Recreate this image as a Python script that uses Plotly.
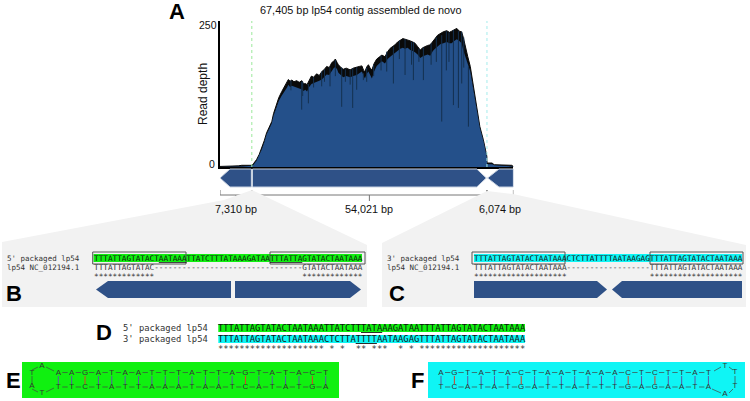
import plotly.graph_objects as go

W, H = 750, 401
SANS = "Liberation Sans"
MONO = "DejaVu Sans Mono"
BLUE = "#24508a"
GENE = "#2f5187"
GREY = "#f2f2f2"
GREEN = "#10f010"
CYAN = "#0ff5f5"

#%% read depth
depth_pos = [0, 2000, 4200, 5000, 7300, 7700, 8400, 9000, 9600, 10200, 10700, 11300, 11900, 12300, 12700, 13100, 13500,
             14200, 14600, 15000, 15400, 15700, 16100, 16500, 17000, 17600, 18200, 18800, 19200, 19600, 20000, 20400,
             21000, 21500, 22200, 22800, 23400, 24000, 24500, 25100, 25700, 26100, 26500, 26900, 27200, 27800, 28300,
             29000, 29900, 30600, 31400, 32000, 32600, 33000, 33300, 33700, 34100, 34500, 34900, 35400, 36000, 36600,
             37200, 37900, 38500, 39100, 39700, 40200, 40800, 41400, 42000, 42500, 43100, 43700, 44300, 44800, 45400,
             46000, 46600, 47100, 47700, 48300, 48900, 49400, 50000, 50600, 51300, 52100, 52700, 53200, 53800, 54400,
             55000, 55500, 55900, 56300, 56900, 57500, 58200, 59000, 59700, 60500, 61000, 61300, 61350, 62500, 63000,
             66500, 67000, 67405]
depth_top = [1, 1, 2, 3, 3, 6, 13, 22, 33, 47, 60, 70, 80, 94, 104, 114, 122,
             133, 138, 144, 150, 154, 151, 153, 150, 152, 149, 152, 146, 147, 145, 152,
             160, 158, 164, 161, 168, 172, 177, 175, 184, 186, 190, 184, 180, 175, 172,
             174, 171, 174, 175, 177, 178, 170, 168, 176, 180, 174, 171, 182, 190, 194,
             197, 194, 203, 209, 212, 215, 220, 223, 226, 225, 224, 222, 220, 218, 212,
             206, 210, 212, 214, 215, 222, 226, 232, 235, 238, 240, 237, 239, 241, 244,
             239, 238, 228, 212, 195, 177, 142, 101, 71, 48, 30, 19, 7, 7, 4,
             3, 3, 1]
depth_low = [0, 0, 1, 1, 2, 4, 11, 20, 31, 44, 57, 67, 77, 90, 100, 108, 116,
             126, 130, 136, 140, 145, 141, 143, 141, 140, 138, 137, 134, 136, 133, 140,
             146, 148, 150, 152, 154, 158, 163, 162, 170, 174, 176, 172, 166, 162, 158,
             160, 158, 160, 162, 165, 168, 160, 156, 164, 168, 162, 156, 168, 178, 182,
             186, 182, 190, 194, 198, 200, 205, 208, 210, 208, 210, 206, 204, 202, 198,
             192, 195, 196, 198, 196, 204, 208, 212, 216, 218, 220, 218, 218, 222, 225,
             222, 218, 205, 196, 182, 168, 136, 98, 68, 46, 28, 17, 5, 5, 3,
             2, 1, 0]
dip_pos = [18767, 20299, 23363, 25278, 27959, 30487, 31406, 32938, 38300, 39832, 42513, 44428, 46726, 50939, 53620,
           54769, 55535, 57067, 16300, 19000, 21500, 24000, 26500, 28800, 29900, 33700, 35300, 37000, 41200, 44000,
           45700, 48500, 49700, 52000, 52600, 56000]
dip_bottom = [101, 112, 142, 142, 106, 104, 136, 153, 168, 147, 162, 153, 153, 80, 109, 104, 147, 71, 135, 125, 140,
              150, 160, 150, 145, 150, 160, 170, 190, 180, 185, 180, 185, 170, 185, 175]
dip_top = [150, 146, 168, 175, 175, 174, 175, 165, 203, 212, 225, 220, 210, 232, 241, 239, 238, 177, 152, 150, 158,
           172, 188, 172, 171, 175, 180, 196, 222, 220, 208, 218, 228, 239, 237, 228]

contig_len = 67405
segments_bp = [7310, 54021, 6074]
segment_labels = ["7,310 bp", "54,021 bp", "6,074 bp"]

#%% alignments
seq_5 = "TTTATTAGTATACTAATAAATTATCTTTATAAAGATAATTTATTAGTATACTAATAAA"
seq_3 = "TTTATTAGTATACTAATAAACTCTTATTTTAATAAGAGTTTATTAGTATACTAATAAA"
ref_b = "TTTATTAGTATAC" + "-" * 32 + "GTATACTAATAAA"
ref_c = "TTTATTAGTATACTAATAAA" + "-" * 18 + "TTTATTAGTATACTAATAAA"
star_b = "*" * 13 + " " * 32 + "*" * 13
star_c = "*" * 20 + " " * 18 + "*" * 20
star_d = "*" * 20 + " * *  ** ***  * * " + "*" * 20

#%% hairpins
e_top = list("AAGATAATTTATTAGTATACT")
e_bot = list("TTCTATTAAATAATCATATGA")
f_top = list("AGTATACTAATAAACTCTTAT")
f_bot = list("TCATATGATTATTTGAGAATA")

fig = go.Figure()


def text(x, y, s, size=8, font=SANS, color="#111111", anchor="center", bold=False, angle=0):
    if bold:
        s = "<b>" + s + "</b>"
    fig.add_annotation(x=x, y=y, xref="x2", yref="y2", text=s.replace(" ", "\u00a0") if font == MONO else s,
                       showarrow=False, xanchor=anchor, yanchor="middle", textangle=angle,
                       font=dict(family=font, size=size, color=color), borderpad=0, borderwidth=0)


def poly(pts, fill, line=None, lw=1, xref="x2", layer="below"):
    path = "M" + " L".join(f"{a},{b}" for a, b in pts) + " Z"
    fig.add_shape(type="path", path=path, xref=xref, yref="y2", fillcolor=fill, layer=layer,
                  line=dict(color=line if line else fill, width=lw if line else 0))


def rect(x0, y0, x1, y1, fill="rgba(0,0,0,0)", line=None, lw=1, layer="below"):
    fig.add_shape(type="rect", x0=x0, y0=y0, x1=x1, y1=y1, xref="x2", yref="y2", fillcolor=fill, layer=layer,
                  line=dict(color=line if line else fill, width=lw if line else 0))


def under(s, a, b):
    return s[:a] + "<u>" + s[a:b] + "</u>" + s[b:]


# grey zoom panels
poly([(2, 242), (224, 200), (252, 190), (367, 245), (367, 307), (2, 307)], GREY)
poly([(382, 243), (487, 191), (513, 194), (746, 245), (746, 307), (382, 307)], GREY)

# Wykres glowny
fig.add_trace(go.Scatter(x=depth_pos, y=depth_top, mode="lines", fill="tozeroy", fillcolor="#0a0a0a",
                         line=dict(color="#0a0a0a", width=1), xaxis="x", yaxis="y"))
fig.add_trace(go.Scatter(x=depth_pos, y=depth_low, mode="lines", fill="tozeroy", fillcolor=BLUE,
                         line=dict(color=BLUE, width=0), xaxis="x", yaxis="y"))
dx, dy = [], []
for p, b, t in zip(dip_pos, dip_bottom, dip_top):
    dx += [p, p, None]
    dy += [b, t, None]
fig.add_trace(go.Scatter(x=dx, y=dy, mode="lines", line=dict(color="#14304f", width=1), xaxis="x", yaxis="y"))

left_end = segments_bp[0]
right_end = segments_bp[0] + segments_bp[1]
fig.add_trace(go.Scatter(x=[left_end, left_end], y=[0, 257], mode="lines",
                         line=dict(color="#9be89b", width=1, dash="dot"), xaxis="x", yaxis="y"))
fig.add_trace(go.Scatter(x=[right_end, right_end], y=[0, 257], mode="lines",
                         line=dict(color="#a5ecec", width=1, dash="dot"), xaxis="x", yaxis="y"))

# genes under the depth plot, x in bp
poly([(0, 178), (2300, 169), (left_end - 100, 169), (left_end - 100, 187), (2300, 187)], GENE, "#c9d3e2", 1, "x")
poly([(left_end + 150, 169), (59000, 169), (right_end - 150, 178), (59000, 187), (left_end + 150, 187)],
     GENE, "#c9d3e2", 1, "x")
poly([(right_end + 150, 178), (64100, 169), (contig_len, 169), (contig_len, 187), (64100, 187)], GENE, "#c9d3e2", 1, "x")

# brackets
start = 0
for seg, lab in zip(segments_bp, segment_labels):
    end = start + seg
    mid = start + seg / 2
    fx = [start, start, end, end, None, mid, mid]
    fy = [190, 195, 195, 190, None, 195, 201]
    fig.add_trace(go.Scatter(x=fx, y=fy, mode="lines", line=dict(color="#777777", width=1), xaxis="x", yaxis="y2"))
    start = end
text(236, 209, segment_labels[0], 10.8)
text(369, 209, segment_labels[1], 10.8)
text(500, 209, segment_labels[2], 10.8)

text(361, 10, "67,405 bp lp54 contig assembled de novo", 10.9)
text(203, 94, "Read depth", 12, angle=-90)
text(208, 25, "250", 10.5)
text(212, 164, "0", 10.5)

# panel letters
text(177, 11, "A", 22, bold=True, color="black")
text(14, 293, "B", 22, bold=True, color="black")
text(397, 293, "C", 22, bold=True, color="black")
text(104, 332, "D", 22, bold=True, color="black")
text(13, 380, "E", 22, bold=True, color="black")
text(417, 380, "F", 22, bold=True, color="black")

# Panel B
rect(93.5, 254, 362, 262, GREEN)
rect(92.7, 252, 186, 264, line="#555555", layer="above")
rect(270, 252, 365, 264, line="#555555", layer="above")
text(7, 258, "5' packaged lp54", 7.5, MONO, "#333333", "left")
text(7, 267, "lp54 NC_012194.1", 7.5, MONO, "#333333", "left")
text(93.5, 258, under(under(seq_5, 38, 45), 14, 20), 7.7, MONO, anchor="left")
text(93.5, 267, ref_b, 7.7, MONO, "#333333", "left")
text(93.5, 276, star_b, 7.7, MONO, "#333333", "left")
poly([(96, 289.5), (108, 281), (231, 281), (231, 298), (108, 298)], GENE)
poly([(235, 281), (350, 281), (361, 289.5), (350, 298), (235, 298)], GENE)

# Panel C
rect(474, 254, 742, 262, CYAN)
rect(472, 252, 565, 264, line="#555555", layer="above")
rect(650, 252, 743, 264, line="#555555", layer="above")
text(387, 258, "3' packaged lp54", 7.5, MONO, "#333333", "left")
text(387, 267, "lp54 NC_012194.1", 7.5, MONO, "#333333", "left")
text(474, 258, seq_3, 7.7, MONO, anchor="left")
text(474, 267, ref_c, 7.7, MONO, "#333333", "left")
text(474, 276, star_c, 7.7, MONO, "#333333", "left")
poly([(474, 281), (597, 281), (607, 289.5), (597, 298), (474, 298)], GENE)
poly([(612, 289.5), (622, 281), (742, 281), (742, 298), (622, 298)], GENE)

# Panel D
rect(218.3, 324, 525, 332, GREEN)
rect(218.3, 335, 525, 343, CYAN)
text(123, 328, "5' packaged lp54", 8.8, MONO, "#333333", "left")
text(123, 339, "3' packaged lp54", 8.8, MONO, "#333333", "left")
text(218.3, 328, under(seq_5, 27, 31), 8.8, MONO, anchor="left")
text(218.3, 339, under(seq_3, 26, 30), 8.8, MONO, anchor="left")
text(218.3, 349, star_d, 8.8, MONO, "#333333", "left")


# Panels E, F
def hairpin(top, bot, x0, loop_x, loop_y, loop_txt, loop_line):
    step = 13.37
    xs = [x0 + i * step for i in range(len(top))]
    fig.add_trace(go.Scatter(x=xs + xs + loop_x, y=[372.5] * len(xs) + [387] * len(xs) + loop_y,
                             text=top + bot + loop_txt, mode="text", xaxis="x2", yaxis="y2",
                             textfont=dict(family=SANS, size=8, color="#333333")))
    lx, ly = [], []
    for a, b in zip(xs[:-1], xs[1:]):
        lx += [a + 4, b - 4, None, a + 4, b - 4, None]
        ly += [372.5, 372.5, None, 387, 387, None]
    lx += loop_line[0]
    ly += loop_line[1]
    fig.add_trace(go.Scatter(x=lx, y=ly, mode="lines", line=dict(color="#444444", width=0.7), xaxis="x2", yaxis="y2"))
    px, py, rx, ry = [], [], [], []
    for x, a, b in zip(xs, top, bot):
        if a + b in ("GC", "CG"):
            rx += [x, x, None]
            ry += [376, 384, None]
        elif a + b in ("AT", "TA"):
            px += [x, x, None]
            py += [376, 384, None]
    fig.add_trace(go.Scatter(x=px, y=py, mode="lines", line=dict(color="#5a5aa5", width=1), xaxis="x2", yaxis="y2"))
    fig.add_trace(go.Scatter(x=rx, y=ry, mode="lines", line=dict(color="#d8402a", width=1), xaxis="x2", yaxis="y2"))


rect(22, 362, 339, 398, GREEN)
rect(428, 362, 745, 398, CYAN)
hairpin(e_top, e_bot, 58.3, [32, 42, 32, 42], [372.5, 366, 386, 393], ["T", "A", "A", "T"],
        ([32, 32, None, 32, 38, None, 46, 54, None, 32, 38, None, 46, 54],
         [376, 383, None, 370, 367, None, 367, 371, None, 389, 392, None, 392, 388]))
hairpin(f_top, f_bot, 441, [725, 735, 735, 725], [366, 372, 386, 394], ["T", "T", "T", "A"],
        ([714, 721, None, 729, 733, None, 735, 735, None, 712, 721, None, 729, 733],
         [371, 367, None, 367, 370, None, 376, 383, None, 389, 393, None, 393, 389]))

fig.update_layout(
    width=W, height=H, autosize=False, margin=dict(l=0, r=0, t=0, b=0), showlegend=False,
    paper_bgcolor="white", plot_bgcolor="rgba(0,0,0,0)", hovermode=False,
    xaxis=dict(domain=[220 / W, 513.4 / W], range=[0, contig_len], showgrid=False, zeroline=False, showticklabels=False,
               ticks="", showline=True, linecolor="black", linewidth=2, anchor="y"),
    yaxis=dict(domain=[(H - 167) / H, (H - 21) / H], range=[0, 257], showgrid=False, zeroline=False,
               showticklabels=False, ticks="", showline=True, linecolor="black", linewidth=2, anchor="x"),
    xaxis2=dict(domain=[0, 1], range=[0, W], visible=False, anchor="y2"),
    yaxis2=dict(domain=[0, 1], range=[H, 0], visible=False, anchor="x2"),
)

fig.write_html("out.html", config=dict(displayModeBar=False),
               post_script="document.body.style.margin='0';document.body.style.overflow='hidden';")
